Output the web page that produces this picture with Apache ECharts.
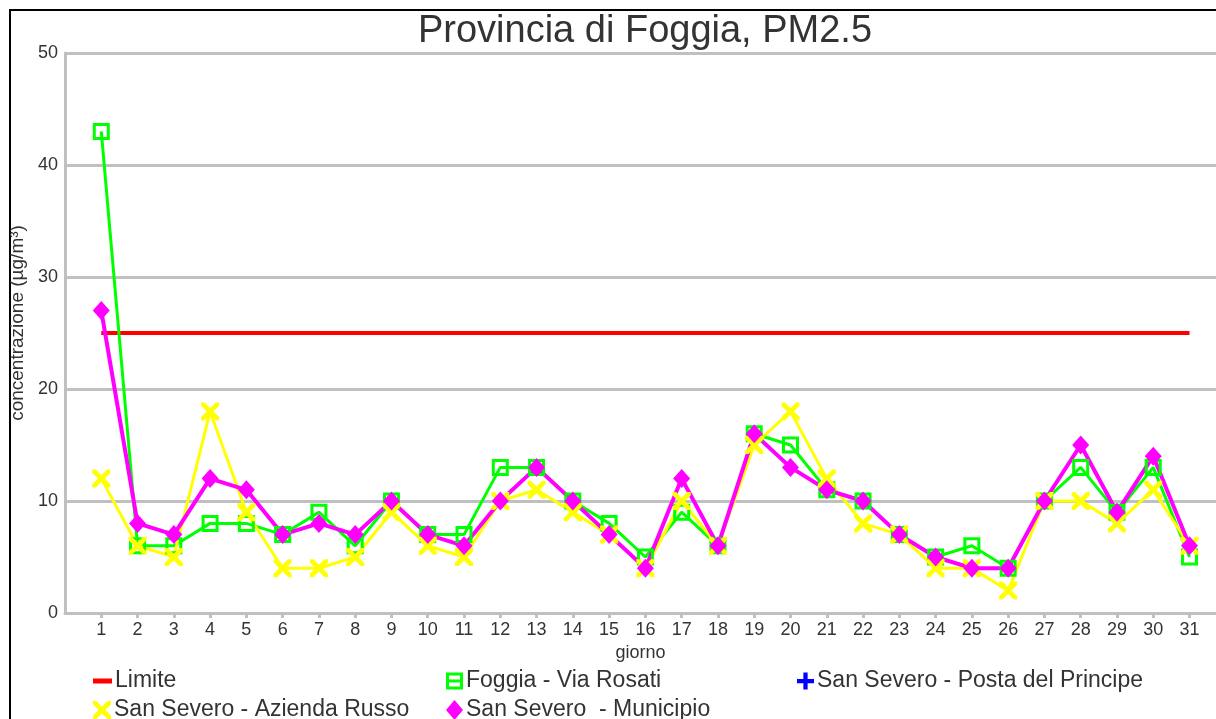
<!DOCTYPE html>
<html>
<head>
<meta charset="utf-8">
<title>Provincia di Foggia, PM2.5</title>
<script src="https://cdn.jsdelivr.net/npm/echarts@6/dist/echarts.min.js"></script>
<style>
  html, body { margin: 0; padding: 0; background: #fff; }
  #chart { width: 1216px; height: 719px; }
</style>
</head>
<body>
<div id="chart"></div>
<script>
// giorni del mese
var days = [1, 2, 3, 4, 5, 6, 7, 8, 9, 10, 11, 12, 13, 14, 15, 16, 17, 18, 19, 20, 21, 22, 23, 24, 25, 26, 27, 28, 29, 30, 31]
// valore limite
var limite = [25, 25, 25, 25, 25, 25, 25, 25, 25, 25, 25, 25, 25, 25, 25, 25, 25, 25, 25, 25, 25, 25, 25, 25, 25, 25, 25, 25, 25, 25, 25]
// stazioni
var foggiaViaRosati = [43, 6, 6, 8, 8, 7, 9, 6, 10, 7, 7, 13, 13, 10, 8, 5, 9, 6, 16, 15, 11, 10, 7, 5, 6, 4, 10, 13, 9, 13, 5]
var postaDelPrincipe = []
var aziendaRusso = [12, 6, 5, 18, 9, 4, 4, 5, 9, 6, 5, 10, 11, 9, 7, 4, 10, 6, 15, 18, 12, 8, 7, 4, 4, 2, 10, 10, 8, 11, 6]
var municipio = [27, 8, 7, 12, 11, 7, 8, 7, 10, 7, 6, 10, 13, 10, 7, 4, 12, 6, 16, 13, 11, 10, 7, 5, 4, 4, 10, 15, 9, 14, 6]
var yTicks = [0, 10, 20, 30, 40, 50]

var names = ['Limite', 'Foggia - Via Rosati', 'San Severo - Posta del Principe', 'San Severo - Azienda Russo', 'San Severo  - Municipio']

var FONT = 'Liberation Sans, Arial, sans-serif'

// simboli
var squareHollow = 'path://M0,0h17v17h-17zM3,3v11h11v-11z'
var squareLegend = 'path://M0,0h17v17h-17zM3,3v11h11v-11zM3,7h11v3h-11z'
var crossX = 'path://M0,0L3,0L8,5L13,0L16,0L16,3L11,8L16,13L16,16L13,16L8,11L3,16L0,16L0,13L5,8L0,3Z'
var plus = 'path://M6,0h4v6h6v4h-6v6h-4v-6h-6v-4h6z'

function pairs(vals) {
    return vals.map(function (v, i) { return [days[i], v] })
}

var chart = echarts.init(document.getElementById('chart'))

function legendItem(name, icon, left, top, w, h) {
    return {
        data: [{ name: name, icon: icon }],
        left: left,
        top: top,
        padding: 0,
        itemWidth: w,
        itemHeight: h,
        itemGap: 0,
        textStyle: { fontFamily: FONT, fontSize: 23, color: '#333', lineHeight: 24, padding: [0, 0, 0, -2] }
    }
}

var option = {
    backgroundColor: '#fff',
    animation: false,
    title: {
        text: 'Provincia di Foggia, PM2.5',
        left: 645,
        textAlign: 'center',
        top: 13,
        padding: 0,
        textStyle: { fontFamily: FONT, fontSize: 38, fontWeight: 'normal', color: '#333' }
    },
    graphic: [{
        type: 'rect',
        z: -1,
        shape: { x: 10, y: 10, width: 1300, height: 800 },
        style: { fill: 'none', stroke: '#000', lineWidth: 2 }
    }],
    legend: [
        legendItem(names[0], 'rect', 93, 669, 19, 5),
        legendItem(names[1], squareLegend, 446, 669, 17, 17),
        legendItem(names[2], plus, 797, 669, 17, 17),
        legendItem(names[3], crossX, 93, 698, 18, 19),
        legendItem(names[4], 'diamond', 446, 698, 17, 20)
    ],
    // il grafico originale prosegue oltre il bordo destro
    grid: { left: 65, top: 53, right: 0, height: 560, containLabel: false },
    xAxis: {
        type: 'value',
        min: 0,
        max: 31.73,
        name: 'giorno',
        nameLocation: 'middle',
        nameGap: 30,
        nameTextStyle: { fontFamily: FONT, fontSize: 18, color: '#333' },
        axisLine: { show: true, lineStyle: { color: '#c0c0c0', width: 3 } },
        axisTick: { show: true, customValues: days, length: 5, lineStyle: { color: '#c0c0c0', width: 3 } },
        axisLabel: { customValues: days, margin: 8, fontFamily: FONT, fontSize: 18, color: '#333' },
        splitLine: { show: false }
    },
    yAxis: {
        type: 'value',
        min: 0,
        max: 50,
        interval: 10,
        name: 'concentrazione (µg/m³)',
        nameLocation: 'middle',
        nameRotate: 90,
        nameGap: 23,
        nameTextStyle: { fontFamily: FONT, fontSize: 19, color: '#333', padding: [0, 0, 0, 20] },
        axisLine: { show: true, lineStyle: { color: '#c0c0c0', width: 3 } },
        axisTick: { show: false },
        axisLabel: {
            margin: 7, fontFamily: FONT, fontSize: 18, color: '#333',
            customValues: yTicks
        },
        splitLine: { show: true, lineStyle: { color: '#c0c0c0', width: 3 } }
    },
    series: [
        {
            name: names[0],
            type: 'line',
            data: pairs(limite),
            symbol: 'none',
            color: '#ff0000',
            lineStyle: { color: '#ff0000', width: 4 }
        },
        {
            name: names[1],
            type: 'line',
            data: pairs(foggiaViaRosati),
            symbol: squareHollow,
            symbolSize: 17,
            color: '#00ff00',
            lineStyle: { color: '#00ff00', width: 3 }
        },
        {
            name: names[2],
            type: 'line',
            data: pairs(postaDelPrincipe),
            symbol: plus,
            symbolSize: 17,
            color: '#0000ff',
            lineStyle: { color: '#0000ff', width: 3 }
        },
        {
            name: names[3],
            type: 'line',
            data: pairs(aziendaRusso),
            symbol: crossX,
            symbolSize: 18,
            color: '#ffff00',
            lineStyle: { color: '#ffff00', width: 3 }
        },
        {
            name: names[4],
            type: 'line',
            data: pairs(municipio),
            symbol: 'diamond',
            symbolSize: [17, 19],
            color: '#ff00ff',
            lineStyle: { color: '#ff00ff', width: 4 }
        }
    ]
}

chart.setOption(option)
</script>
</body>
</html>
